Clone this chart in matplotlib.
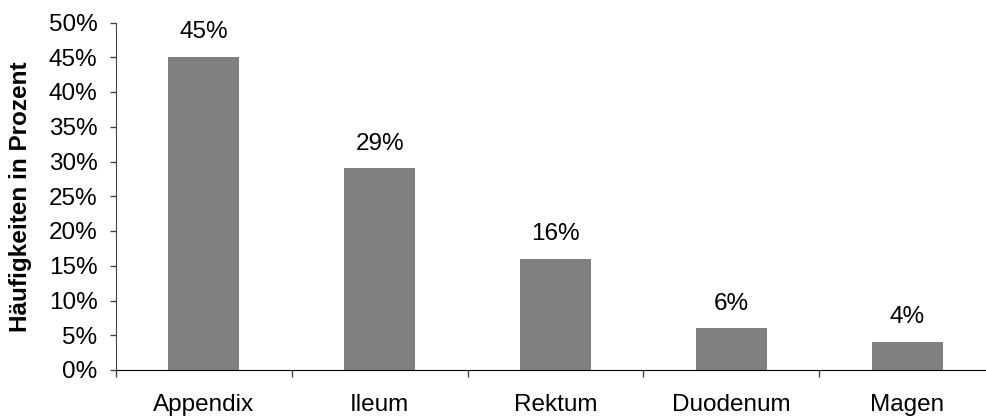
import matplotlib.pyplot as plt
from matplotlib.ticker import FuncFormatter, FixedLocator

plt.rcParams['font.family'] = ['Liberation Sans', 'DejaVu Sans']

kategorien = ['Appendix', 'Ileum', 'Rektum', 'Duodenum', 'Magen']
haeufigkeit = [45, 29, 16, 6, 4]

fig = plt.figure(figsize=(9.86, 4.18), dpi=100)
ax = fig.add_axes([116 / 986, 1 - 370 / 418, 879 / 986, (370 - 22.5) / 418])

x = list(range(len(kategorien)))
ax.bar(x, haeufigkeit, width=0.405, color='#808080', zorder=2)

for xi, v in zip(x, haeufigkeit):
    ax.annotate(f'{v}%', (xi, v), xytext=(0, 13.5), textcoords='offset points',
                ha='center', va='baseline', fontsize=17.5, color='black')

ax.set_xlim(-0.5, len(kategorien) - 0.5)
ax.set_ylim(0, 50)
ax.set_yticks(range(0, 51, 5))
ax.yaxis.set_major_formatter(FuncFormatter(lambda v, p: f'{v:.0f}%'))
ax.tick_params(axis='y', labelsize=17.5, direction='out', length=4.3, width=1,
               color='#444444', labelcolor='black', pad=9)

# Ticks an den Kategoriegrenzen, Beschriftung in der Mitte
ax.xaxis.set_major_locator(FixedLocator([i - 0.5 for i in range(len(kategorien) + 1)]))
ax.xaxis.set_minor_locator(FixedLocator(x))
ax.set_xticklabels([])
ax.set_xticklabels(kategorien, minor=True)
ax.tick_params(axis='x', which='major', direction='out', length=5, width=1, color='#444444')
ax.tick_params(axis='x', which='minor', length=0, labelsize=17.5, pad=17)

ax.spines['top'].set_visible(False)
ax.spines['right'].set_visible(False)
ax.spines['left'].set_color('#444444')
ax.spines['bottom'].set_color('black')

ax.set_ylabel('Häufigkeiten in Prozent', fontsize=17.5, fontweight='bold')
ax.yaxis.set_label_coords(-0.0956, 0.5)

fig.savefig('out.png', dpi=100, facecolor='white')
